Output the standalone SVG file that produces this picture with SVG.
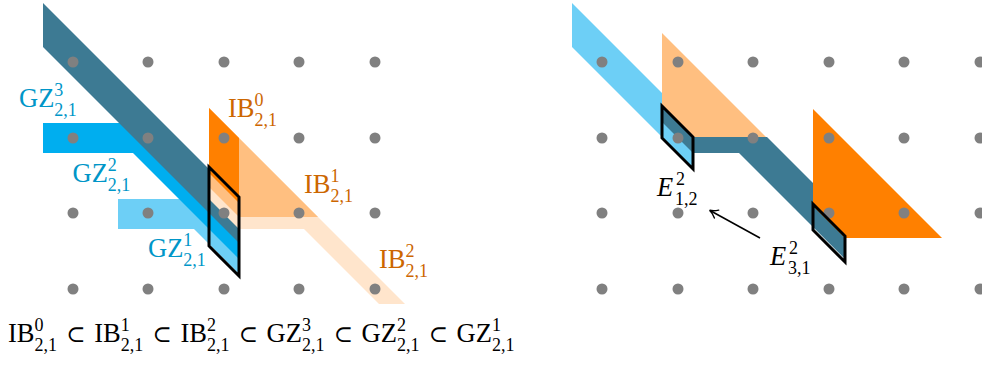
<svg xmlns="http://www.w3.org/2000/svg" width="982" height="370" viewBox="0 0 982 370">
<defs>
<style>
.teal{fill:#3d7a93}
.blue{fill:#00aeef}
.lblue{fill:#6dcff6}
.or{fill:#ff8000}
.lor{fill:#ffbf80}
.vlor{fill:#ffe5cc}
.box{fill:none;stroke:#000;stroke-width:3;stroke-linejoin:miter}
.dot{fill:#808080}
text{font-family:"Liberation Serif","Times New Roman",serif;font-size:26.5px}
.gz{fill:#0096c8}
.ib{fill:#cc6600}
.k{fill:#000}
.s{font-size:18px}
.it{font-style:italic}
.rel{font-family:"DejaVu Serif","Liberation Serif",serif;font-size:23px}
.conn{fill:none;stroke:#000;stroke-width:1.5}
</style>
<marker id="ah" markerWidth="14" markerHeight="14" refX="10" refY="7" orient="auto" markerUnits="userSpaceOnUse" overflow="visible">
<path d="M2.5,2.5 Q6.5,6 10.5,7 Q6.5,8 2.5,11.5" fill="none" stroke="#000" stroke-width="1.4" stroke-linecap="round"/>
</marker>
</defs>

<!-- Left panel regions -->
<g id="GZ1-left"><polygon class="lblue" points="118,199 206,199 239,232 239,274 194,229 118,229"/></g>
<g id="GZ2-left"><polygon class="blue" points="43,123 145,123 239,217 239,259 133,153 43,153"/></g>
<g id="GZ3-left"><polygon class="teal" points="43,3 239,199 239,243 43,47"/></g>
<g id="IB2-left"><polygon class="vlor" points="209,108 318,217 405,304 379,304 304,229 239,229 209,199"/></g>
<g id="IB1-left"><polygon class="lor" points="209,108 318,217 239,217 209,187"/></g>
<g id="IB0-left"><polygon class="or" points="209,108 239,138 239,203 209,173"/></g>

<!-- Right panel regions -->
<g id="GZ-right"><polygon class="lblue" points="572,3 693,124 693,168 572,47"/></g>
<g id="IB-right-light"><polygon class="lor" points="662,33 767,138 693,138 662,107"/></g>
<g id="d2-band"><polygon class="teal" points="662,106 693,137 767,137 845,215 845,259 739,153 693,153 662,122"/></g>
<g id="IB-right-orange"><polygon class="or" points="813,109 942,238 845,238 813,206"/></g>

<!-- Grid dots -->
<g id="grid">
<circle class="dot" cx="73" cy="62" r="5.5"/><circle class="dot" cx="148" cy="62" r="5.5"/><circle class="dot" cx="224" cy="62" r="5.5"/><circle class="dot" cx="299" cy="62" r="5.5"/><circle class="dot" cx="375" cy="62" r="5.5"/>
<circle class="dot" cx="73" cy="138" r="5.5"/><circle class="dot" cx="148" cy="138" r="5.5"/><circle class="dot" cx="224" cy="138" r="5.5"/><circle class="dot" cx="299" cy="138" r="5.5"/><circle class="dot" cx="375" cy="138" r="5.5"/>
<circle class="dot" cx="73" cy="213" r="5.5"/><circle class="dot" cx="148" cy="213" r="5.5"/><circle class="dot" cx="224" cy="213" r="5.5"/><circle class="dot" cx="299" cy="213" r="5.5"/><circle class="dot" cx="375" cy="213" r="5.5"/>
<circle class="dot" cx="73" cy="289" r="5.5"/><circle class="dot" cx="148" cy="289" r="5.5"/><circle class="dot" cx="224" cy="289" r="5.5"/><circle class="dot" cx="299" cy="289" r="5.5"/><circle class="dot" cx="375" cy="289" r="5.5"/>
<circle class="dot" cx="602" cy="62" r="5.5"/><circle class="dot" cx="678" cy="62" r="5.5"/><circle class="dot" cx="753" cy="62" r="5.5"/><circle class="dot" cx="829" cy="62" r="5.5"/><circle class="dot" cx="904" cy="62" r="5.5"/><circle class="dot" cx="980" cy="62" r="5.5"/>
<circle class="dot" cx="602" cy="138" r="5.5"/><circle class="dot" cx="678" cy="138" r="5.5"/><circle class="dot" cx="753" cy="138" r="5.5"/><circle class="dot" cx="829" cy="138" r="5.5"/><circle class="dot" cx="904" cy="138" r="5.5"/><circle class="dot" cx="980" cy="138" r="5.5"/>
<circle class="dot" cx="602" cy="213" r="5.5"/><circle class="dot" cx="678" cy="213" r="5.5"/><circle class="dot" cx="753" cy="213" r="5.5"/><circle class="dot" cx="829" cy="213" r="5.5"/><circle class="dot" cx="904" cy="213" r="5.5"/><circle class="dot" cx="980" cy="213" r="5.5"/>
<circle class="dot" cx="602" cy="289" r="5.5"/><circle class="dot" cx="678" cy="289" r="5.5"/><circle class="dot" cx="753" cy="289" r="5.5"/><circle class="dot" cx="829" cy="289" r="5.5"/><circle class="dot" cx="904" cy="289" r="5.5"/><circle class="dot" cx="980" cy="289" r="5.5"/>
</g>

<!-- Boxes -->
<g id="box-left"><polygon class="box" points="209,167 239,197 239,276 209,246"/></g>
<g id="box-E12"><polygon class="box" points="662,106 693,137 693,169 662,138"/></g>
<g id="box-E31"><polygon class="box" points="813,204 845,236 845,262 813,230"/></g>

<!-- Labels -->
<g id="label-GZ3"><text class="gz" x="19" y="107">GZ<tspan class="s" x="54.3" y="96">3</tspan><tspan class="s" x="54.3" y="115.5">2,1</tspan></text></g>
<g id="label-GZ2"><text class="gz" x="72.5" y="182">GZ<tspan class="s" x="107.8" y="171">2</tspan><tspan class="s" x="107.8" y="190.5">2,1</tspan></text></g>
<g id="label-GZ1"><text class="gz" x="148" y="257">GZ<tspan class="s" x="183.3" y="246">1</tspan><tspan class="s" x="183.3" y="265.5">2,1</tspan></text></g>
<g id="label-IB0"><text class="ib" x="228" y="117">IB<tspan class="s" x="254.5" y="106">0</tspan><tspan class="s" x="254.5" y="125.5">2,1</tspan></text></g>
<g id="label-IB1"><text class="ib" x="304" y="193">IB<tspan class="s" x="330.5" y="182">1</tspan><tspan class="s" x="330.5" y="201.5">2,1</tspan></text></g>
<g id="label-IB2"><text class="ib" x="379" y="268">IB<tspan class="s" x="405.5" y="257">2</tspan><tspan class="s" x="405.5" y="276.5">2,1</tspan></text></g>
<g id="label-E12"><text class="k" x="657" y="196"><tspan class="it">E</tspan><tspan class="s" x="676" y="185">2</tspan><tspan class="s" x="675" y="204.5">1,2</tspan></text></g>
<g id="label-E31"><text class="k" x="770" y="265"><tspan class="it">E</tspan><tspan class="s" x="789" y="254">2</tspan><tspan class="s" x="788" y="273.5">3,1</tspan></text></g>

<!-- Connectors -->
<g id="connectors">
<path class="conn" d="M760,238 L710,210.5" marker-end="url(#ah)"/>
</g>

<!-- Formula -->
<g id="formula">
<text class="k" x="8" y="342">IB<tspan class="s" x="34.5" y="331">0</tspan><tspan class="s" x="34.5" y="350.5">2,1</tspan></text>
<text class="k rel" x="75.9" y="342" text-anchor="middle">⊂</text>
<text class="k" x="94.2" y="342">IB<tspan class="s" x="120.7" y="331">1</tspan><tspan class="s" x="120.7" y="350.5">2,1</tspan></text>
<text class="k rel" x="162.1" y="342" text-anchor="middle">⊂</text>
<text class="k" x="180.4" y="342">IB<tspan class="s" x="206.9" y="331">2</tspan><tspan class="s" x="206.9" y="350.5">2,1</tspan></text>
<text class="k rel" x="248.3" y="342" text-anchor="middle">⊂</text>
<text class="k" x="266.6" y="342">GZ<tspan class="s" x="301.9" y="331">3</tspan><tspan class="s" x="301.9" y="350.5">2,1</tspan></text>
<text class="k rel" x="343.3" y="342" text-anchor="middle">⊂</text>
<text class="k" x="361.6" y="342">GZ<tspan class="s" x="396.9" y="331">2</tspan><tspan class="s" x="396.9" y="350.5">2,1</tspan></text>
<text class="k rel" x="438.3" y="342" text-anchor="middle">⊂</text>
<text class="k" x="456.6" y="342">GZ<tspan class="s" x="491.9" y="331">1</tspan><tspan class="s" x="491.9" y="350.5">2,1</tspan></text>
</g>
</svg>
